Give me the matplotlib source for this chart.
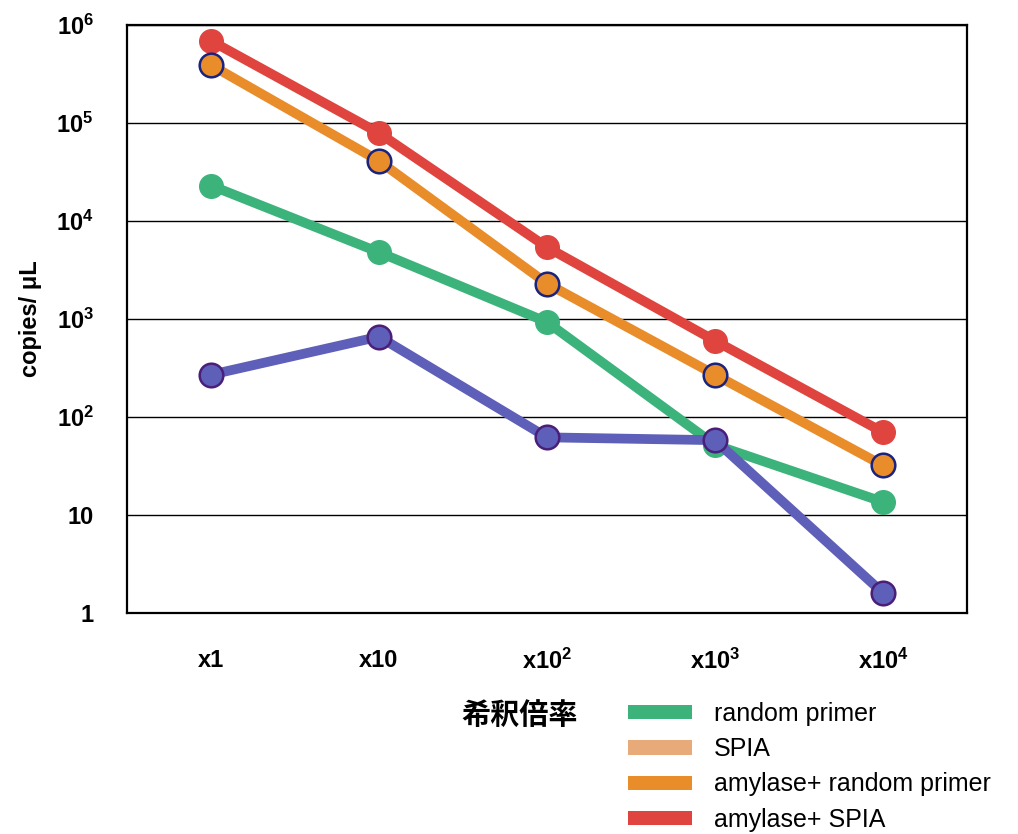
import matplotlib
matplotlib.use("Agg")
import matplotlib.pyplot as plt
from matplotlib.patches import Patch

# data (log scale)
dilutions = ["x1", "x10", "x10$^2$", "x10$^3$", "x10$^4$"]
random_primer = [2.3e4, 4.8e3, 930, 52, 13.6]
spia = [270, 660, 62, 58, 1.6]
amy_random_primer = [3.9e5, 4.1e4, 2.3e3, 270, 32]
amy_spia = [6.9e5, 7.9e4, 5.4e3, 600, 70]

legend_names = ["random primer", "SPIA", "amylase+ random primer", "amylase+ SPIA"]
legend_colors = ["#3db37c", "#e8aa78", "#e98c2a", "#e0443f"]

plt.rcParams['font.family'] = ['Liberation Sans', 'DejaVu Sans']
plt.rcParams['mathtext.fontset'] = 'custom'
plt.rcParams['mathtext.rm'] = 'Liberation Sans:bold'
plt.rcParams['mathtext.bf'] = 'Liberation Sans:bold'
plt.rcParams['mathtext.default'] = 'bf'

fig = plt.figure(figsize=(10.18, 8.34), dpi=100)
ax = fig.add_axes([127/1018, 1 - 613/834, 840/1018, 588/834])

x = range(len(dilutions))
lw = 7
ms = 17
ax.plot(x, random_primer, color="#3db37c", lw=lw, marker="o", ms=ms, zorder=3)
ax.plot(x, spia, color="#5d5fb8", lw=lw, marker="o", ms=ms,
        mec="#4a1f7a", mew=1.8, zorder=3.5)
ax.plot(x, amy_random_primer, color="#e98c2a", lw=lw, marker="o", ms=ms,
        mec="#1a237e", mew=1.8, zorder=4)
ax.plot(x, amy_spia, color="#e0443f", lw=lw, marker="o", ms=ms, zorder=3)

ax.set_yscale("log")
ax.set_ylim(1, 1e6)
ax.set_xlim(-0.5, 4.5)
ax.set_yticks([1, 10, 1e2, 1e3, 1e4, 1e5, 1e6])
ax.set_yticklabels(["1", "10", "10$^2$", "10$^3$", "10$^4$", "10$^5$", "10$^6$"],
                   fontsize=17, fontweight="bold")
ax.minorticks_off()
ax.set_xticks(list(x))
ax.set_xticklabels(dilutions, fontsize=17, fontweight="bold")
ax.tick_params(length=0, pad=26, axis="x")
ax.tick_params(length=0, pad=24, axis="y")
ax.grid(axis="y", color="black", lw=1.0)
ax.set_axisbelow(True)
for s in ax.spines.values():
    s.set_linewidth(1.6)

ax.set_ylabel("copies/ μL", fontsize=17, fontweight="bold", labelpad=10)
fig.text(520/1018, 1 - 715/834, "希釈倍率", fontsize=21, fontweight="bold",
         family=["Noto Sans CJK JP"], ha="center", va="center")

handles = [Patch(facecolor=c, edgecolor="none") for c in legend_colors]
fig.legend(handles, legend_names, loc="upper left",
           bbox_to_anchor=(628/1018, 1 - 702/834), frameon=False,
           fontsize=18, handlelength=2.55, handleheight=0.5,
           labelspacing=0.45, handletextpad=0.9, borderpad=0,
           borderaxespad=0)

fig.savefig("out.png", dpi=100)
